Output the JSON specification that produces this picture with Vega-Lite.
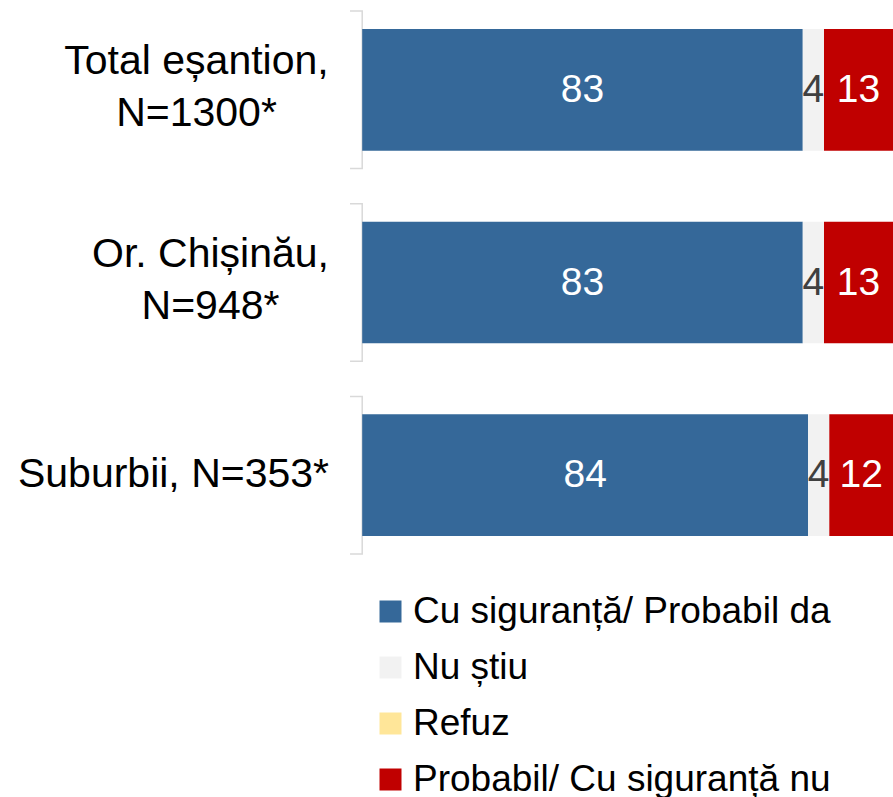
{
  "$schema": "https://vega.github.io/schema/vega-lite/v6.json",
  "autosize": "none",
  "width": 543,
  "height": 543,
  "padding": {"left": 350, "top": 11, "right": 0, "bottom": 243},
  "background": "white",
  "config": {"view": {"stroke": null}, "font": "Liberation Sans"},
  "data": {
    "values": [
      {"grup": "Total eșantion,|N=1300*", "resp": "Cu siguranță/ Probabil da", "ord": 1, "value": 83},
      {"grup": "Total eșantion,|N=1300*", "resp": "Nu știu", "ord": 2, "value": 4},
      {"grup": "Total eșantion,|N=1300*", "resp": "Refuz", "ord": 3, "value": 0},
      {"grup": "Total eșantion,|N=1300*", "resp": "Probabil/ Cu siguranță nu", "ord": 4, "value": 13},
      {"grup": "Or. Chișinău,|N=948*", "resp": "Cu siguranță/ Probabil da", "ord": 1, "value": 83},
      {"grup": "Or. Chișinău,|N=948*", "resp": "Nu știu", "ord": 2, "value": 4},
      {"grup": "Or. Chișinău,|N=948*", "resp": "Refuz", "ord": 3, "value": 0},
      {"grup": "Or. Chișinău,|N=948*", "resp": "Probabil/ Cu siguranță nu", "ord": 4, "value": 13},
      {"grup": "Suburbii, N=353*", "resp": "Cu siguranță/ Probabil da", "ord": 1, "value": 84},
      {"grup": "Suburbii, N=353*", "resp": "Nu știu", "ord": 2, "value": 4},
      {"grup": "Suburbii, N=353*", "resp": "Refuz", "ord": 3, "value": 0},
      {"grup": "Suburbii, N=353*", "resp": "Probabil/ Cu siguranță nu", "ord": 4, "value": 12}
    ]
  },
  "encoding": {
    "y": {
      "field": "grup",
      "type": "nominal",
      "sort": ["Total eșantion,|N=1300*", "Or. Chișinău,|N=948*", "Suburbii, N=353*"],
      "scale": {"paddingInner": 0.182, "paddingOuter": 0},
      "axis": {
        "title": null,
        "domain": false,
        "ticks": false,
        "labelFontSize": 41,
        "labelColor": "#000000",
        "labelAlign": "center",
        "labelBaseline": "middle",
        "labelPadding": {
          "condition": [
            {"test": "datum.value == 'Total eșantion,|N=1300*'", "value": 154},
            {"test": "datum.value == 'Or. Chișinău,|N=948*'", "value": 140}
          ],
          "value": 177
        },
        "labelOffset": {"condition": {"test": "indexof(datum.value, '|') >= 0", "value": -28}, "value": 0},
        "labelLineHeight": 52,
        "labelLimit": 0,
        "labelExpr": "split(datum.label, '|')"
      }
    }
  },
  "layer": [
    {
      "transform": [{"filter": "datum.ord == 1"}],
      "mark": {"type": "bar", "height": {"band": 1}, "fill": "#FFFFFF", "fillOpacity": 0, "stroke": "#D9D9D9", "strokeWidth": 1.5, "strokeDash": [182, 200]},
      "encoding": {
        "x": {"datum": -2.3, "type": "quantitative", "axis": null, "title": null}
      }
    },
    {
      "mark": {"type": "bar", "height": {"band": 0.772}},
      "encoding": {
        "x": {"field": "value", "type": "quantitative", "stack": "zero", "scale": {"domain": [-2.3, 100], "nice": false, "zero": false}, "axis": null},
        "color": {
          "field": "resp",
          "type": "nominal",
          "scale": {
            "domain": ["Cu siguranță/ Probabil da", "Nu știu", "Refuz", "Probabil/ Cu siguranță nu"],
            "range": ["#356899", "#F2F2F2", "#FFE699", "#C00000"]
          },
          "legend": {
            "orient": "none",
            "legendX": 22,
            "legendY": 582,
            "title": null,
            "direction": "vertical",
            "symbolType": "square",
            "symbolSize": 484,
            "symbolStrokeWidth": 0,
            "labelFontSize": 37,
            "labelColor": "#000000",
            "labelLimit": 0,
            "labelOffset": 4,
            "rowPadding": 18
          }
        },
        "order": {"field": "ord"}
      }
    },
    {
      "transform": [{"filter": "datum.value > 0"}],
      "mark": {"type": "text", "fontSize": 39, "align": "center", "baseline": "middle"},
      "encoding": {
        "x": {"field": "value", "type": "quantitative", "stack": "zero", "bandPosition": 0.5},
        "detail": {"field": "resp"},
        "order": {"field": "ord"},
        "text": {"field": "value", "type": "quantitative"},
        "color": {"condition": {"test": "datum.resp == 'Nu știu'", "value": "#404040"}, "value": "#FFFFFF"}
      }
    }
  ]
}
